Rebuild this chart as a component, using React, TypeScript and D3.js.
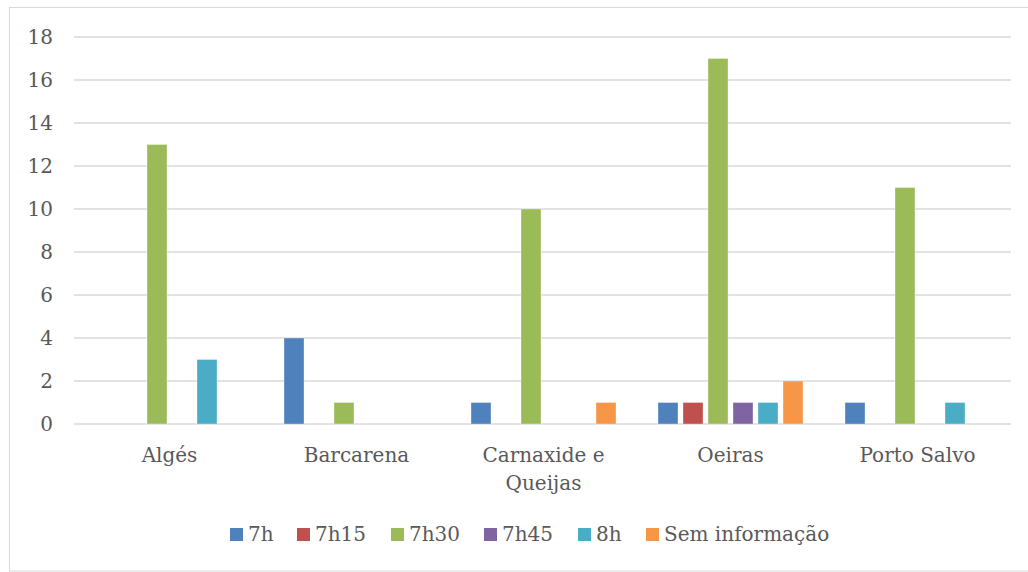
import React from "react";
import * as d3 from "d3";

const categories = ["Algés", "Barcarena", "Carnaxide e Queijas", "Oeiras", "Porto Salvo"];
const categoryLines = [["Algés"], ["Barcarena"], ["Carnaxide e", "Queijas"], ["Oeiras"], ["Porto Salvo"]];
const seriesNames = ["7h", "7h15", "7h30", "7h45", "8h", "Sem informação"];
const seriesColors = ["#4F81BD", "#C0504D", "#9BBB59", "#8064A2", "#4BACC6", "#F79646"];
const s7h = [0, 4, 1, 1, 1];
const s7h15 = [0, 0, 0, 1, 0];
const s7h30 = [13, 1, 10, 17, 11];
const s7h45 = [0, 0, 0, 1, 0];
const s8h = [3, 0, 0, 1, 1];
const sSemInfo = [0, 0, 1, 2, 0];
const seriesValues = [s7h, s7h15, s7h30, s7h45, s8h, sSemInfo];
const yTicks = [0, 2, 4, 6, 8, 10, 12, 14, 16, 18];

const legendX = [230, 297, 391, 484, 578, 646];

export default function App() {
  const W = 1028, H = 572;
  const x0 = 76, x1 = 1011;
  const yTop = 37, yBot = 424;
  const x = d3.scaleBand<string>().domain(categories).range([x0, x1]);
  const inner = d3.scaleBand<string>().domain(seriesNames).range([0, 150]).paddingInner(0.2).paddingOuter(0.1);
  const y = d3.scaleLinear().domain([0, 18]).range([yBot, yTop]);
  const font = "'DejaVu Serif', serif";
  const fs = 20;
  const textColor = "#595959";
  return (
    <svg width={W} height={H} style={{ position: "absolute", left: 0, top: 0 }}>
      <rect x={0} y={0} width={W} height={H} fill="#fff" />
      <rect x={9.5} y={7.5} width={1030} height={563.5} fill="#fff" stroke="#d9d9d9" strokeWidth={1} />
      {yTicks.map((t) => (
        <g key={t}>
          <line x1={74} x2={x1} y1={y(t)} y2={y(t)} stroke="#d9d9d9" strokeWidth={1.5} />
          <text x={53} y={y(t)} dy="0.35em" textAnchor="end" fontFamily={font} fontSize={fs} fill={textColor}>
            {t}
          </text>
        </g>
      ))}
      {categories.map((c, ci) => {
        const cx = (x(c) as number) + x.bandwidth() / 2;
        return (
          <g key={c}>
            {seriesNames.map((s, si) => {
              const v = seriesValues[si][ci];
              if (!v) return null;
              const bx = cx - 75 + (inner(s) as number);
              return (
                <rect
                  key={s}
                  x={bx}
                  y={y(v)}
                  width={inner.bandwidth()}
                  height={y(0) - y(v)}
                  fill={seriesColors[si]}
                  stroke="#ffffff"
                  strokeOpacity={0.35}
                  strokeWidth={1}
                />
              );
            })}
            {categoryLines[ci].map((ln, li) => (
              <text key={li} x={cx} y={462 + li * 28} textAnchor="middle" fontFamily={font} fontSize={fs} fill={textColor}>
                {ln}
              </text>
            ))}
          </g>
        );
      })}
      {seriesNames.map((s, si) => (
        <g key={s}>
          <rect x={legendX[si]} y={528} width={13} height={13} fill={seriesColors[si]} />
          <text x={legendX[si] + 18} y={541} fontFamily={font} fontSize={fs} fill={textColor}>
            {s}
          </text>
        </g>
      ))}
    </svg>
  );
}
